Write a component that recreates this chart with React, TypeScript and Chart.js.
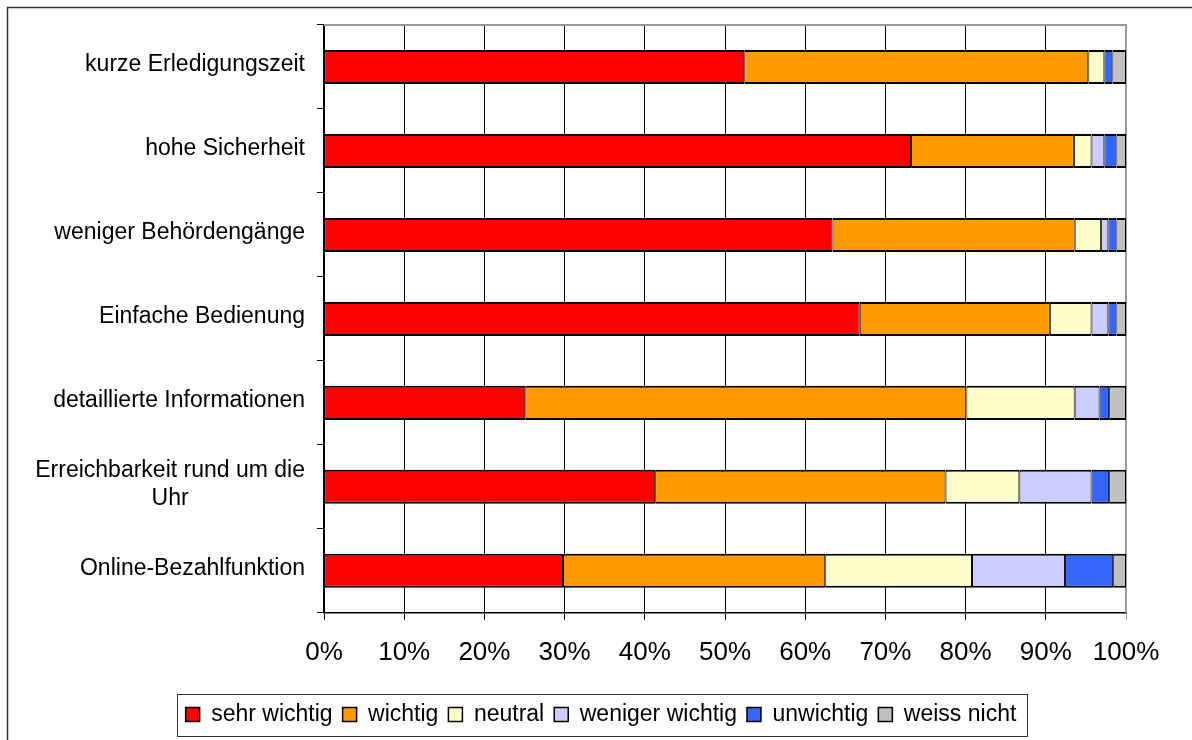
import { useEffect, useRef } from "react";
import { Chart, registerables } from "chart.js";

Chart.register(...registerables);

// Row labels (top to bottom); a nested array means a two-line label
const categories: (string | string[])[] = [
  "kurze Erledigungszeit",
  "hohe Sicherheit",
  "weniger Behördengänge",
  "Einfache Bedienung",
  "detaillierte Informationen",
  ["Erreichbarkeit rund um die", "Uhr"],
  "Online-Bezahlfunktion",
];

// Shares per answer, in percent
const sehrWichtig = [52.4, 73.2, 63.4, 66.8, 25.1, 41.3, 29.8];
const wichtig = [42.9, 20.3, 30.2, 23.7, 55.0, 36.2, 32.7];
const neutral = [2.0, 2.2, 3.3, 5.2, 13.5, 9.2, 18.3];
const wenigerWichtig = [0, 1.6, 0.9, 2.1, 3.1, 9.0, 11.6];
const unwichtig = [1.0, 1.5, 1.0, 1.0, 1.2, 2.2, 6.0];
const weissNicht = [1.7, 1.2, 1.2, 1.2, 2.1, 2.1, 1.6];

const seriesNames = ["sehr wichtig", "wichtig", "neutral", "weniger wichtig", "unwichtig", "weiss nicht"];
const seriesValues = [sehrWichtig, wichtig, neutral, wenigerWichtig, unwichtig, weissNicht];
const seriesColors = ["#FF0000", "#FF9900", "#FFFFCC", "#CCCCFF", "#3366FF", "#C0C0C0"];

const FONT = '"Liberation Sans", Arial, Helvetica, sans-serif';
const PAD_LEFT = 76;
const PLOT_LEFT = 324;

// Category labels: each block right-aligned, lines centred inside the block
const yLabelPlugin = {
  id: "yLabels",
  afterDraw(chart: any) {
    const y = chart.scales.y;
    const ctx = chart.ctx;
    ctx.save();
    ctx.font = `23px ${FONT}`;
    ctx.fillStyle = "#000";
    ctx.textBaseline = "middle";
    ctx.textAlign = "center";
    const right = y.right - 19;
    categories.forEach((c, i) => {
      const lines = Array.isArray(c) ? c : [c];
      const w = Math.max(...lines.map((l) => ctx.measureText(l).width));
      const cx = right - w / 2;
      const py = y.getPixelForValue(i) - 2;
      const lh = 28;
      lines.forEach((l, j) => ctx.fillText(l, cx, py + (j - (lines.length - 1) / 2) * lh));
    });
    ctx.restore();
  },
};

// Grey top/right edge of the plot area, legend frame and outer frame
const framePlugin = {
  id: "frames",
  beforeDraw(chart: any) {
    const ctx = chart.ctx;
    ctx.save();
    ctx.fillStyle = "#fff";
    ctx.fillRect(0, 0, chart.width, chart.height);
    ctx.restore();
  },
  beforeDatasetsDraw(chart: any) {
    const { ctx, chartArea } = chart;
    ctx.save();
    ctx.strokeStyle = "#9a9a9a";
    ctx.lineWidth = 2;
    ctx.beginPath();
    ctx.moveTo(chartArea.left, chartArea.top);
    ctx.lineTo(chartArea.right, chartArea.top);
    ctx.lineTo(chartArea.right, chartArea.bottom);
    ctx.stroke();
    ctx.restore();
  },
  afterDraw(chart: any) {
    const ctx = chart.ctx;
    ctx.save();
    const boxes = chart.legend?.legendHitBoxes || [];
    if (boxes.length) {
      const left = Math.min(...boxes.map((b: any) => b.left));
      const right = Math.max(...boxes.map((b: any) => b.left + b.width));
      const top = Math.min(...boxes.map((b: any) => b.top));
      const bottom = Math.max(...boxes.map((b: any) => b.top + b.height));
      const cy = (top + bottom) / 2;
      ctx.strokeStyle = "#333";
      ctx.lineWidth = 1;
      ctx.strokeRect(Math.round(left - 9) + 0.5, Math.round(cy - 21) + 0.5, Math.round(right - left + 19), 42);
    }
    ctx.strokeStyle = "#333";
    ctx.lineWidth = 1.5;
    ctx.strokeRect(7.5, 7.5, 1400, 1000);
    ctx.restore();
  },
};

export default function App() {
  const canvasRef = useRef<HTMLCanvasElement | null>(null);

  useEffect(() => {
    const canvas = canvasRef.current;
    if (!canvas) return;
    const chart = new Chart(canvas, {
      type: "bar",
      data: {
        labels: categories.map((c) => (Array.isArray(c) ? c.join(" ") : c)),
        datasets: seriesNames.map((name, i) => ({
          label: name,
          data: seriesValues[i],
          backgroundColor: seriesColors[i],
          borderColor: "#000",
          borderWidth: { top: 2, bottom: 2, left: 1, right: 1 },
          borderSkipped: false,
          barPercentage: 0.405,
          categoryPercentage: 1,
        })),
      },
      options: {
        indexAxis: "y",
        animation: false,
        responsive: false,
        maintainAspectRatio: false,
        layout: { padding: { top: 25, right: 66, bottom: 4, left: PAD_LEFT } },
        scales: {
          x: {
            stacked: true,
            min: 0,
            max: 100,
            ticks: {
              stepSize: 10,
              color: "#000",
              padding: 17,
              font: { family: FONT, size: 26 },
              callback: (v: any) => `${v}%`,
            },
            grid: {
              color: (c: any) => (c.tick && c.tick.value === 100 ? "#9a9a9a" : "#000"),
              lineWidth: 1,
              tickLength: 7,
            },
            border: { color: "#000", width: 1.5 },
            afterFit: (scale: any) => {
              scale.height = scale.height + 8;
            },
          },
          y: {
            stacked: true,
            ticks: { display: false },
            grid: {
              drawOnChartArea: false,
              drawTicks: true,
              tickLength: 7,
              color: "#000",
              offset: true,
            },
            border: { color: "#000", width: 1.5 },
            afterFit: (scale: any) => {
              scale.width = PLOT_LEFT - PAD_LEFT;
            },
          },
        },
        plugins: {
          legend: {
            position: "bottom",
            labels: {
              color: "#000",
              boxWidth: 14,
              boxHeight: 14,
              padding: 10,
              font: { family: FONT, size: 23 },
              generateLabels: (chart: any) =>
                chart.data.datasets.map((ds: any, i: number) => ({
                  text: ds.label,
                  fillStyle: ds.backgroundColor,
                  strokeStyle: "#000",
                  lineWidth: 1.5,
                  datasetIndex: i,
                  hidden: false,
                })),
            },
          },
          tooltip: { enabled: false },
        },
      },
      plugins: [framePlugin, yLabelPlugin],
    });
    return () => chart.destroy();
  }, []);

  return (
    <div style={{ position: "fixed", left: 0, top: 0, width: 1192, height: 740, background: "#fff" }}>
      <canvas ref={canvasRef} width={1192} height={740} style={{ display: "block" }} />
    </div>
  );
}
